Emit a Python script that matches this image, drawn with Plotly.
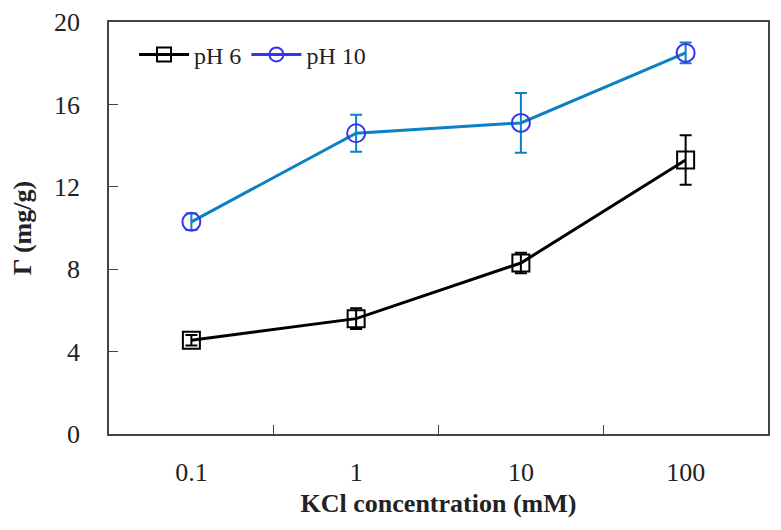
import plotly.graph_objects as go

categories = ["0.1", "1", "10", "100"]
ph6 = [4.55, 5.6, 8.3, 13.3]
ph6_err = [0.25, 0.5, 0.5, 1.2]
ph10 = [10.3, 14.6, 15.1, 18.5]
ph10_err = [0.4, 0.9, 1.45, 0.5]
y_ticks = [0, 4, 8, 12, 16, 20]

font_family = "Liberation Serif, DejaVu Serif, serif"
blue_line = "#0c80c4"
blue_marker = "#3535f0"

fig = go.Figure()
fig.add_trace(go.Scatter(
    x=categories, y=ph6, mode="lines+markers", showlegend=False,
    line=dict(color="black", width=3),
    marker=dict(symbol="square-open", size=17, color="black", line=dict(width=2)),
    error_y=dict(type="data", array=ph6_err, color="black", thickness=2, width=6),
))
fig.add_trace(go.Scatter(
    x=categories, y=ph10, mode="lines+markers", showlegend=False,
    line=dict(color=blue_line, width=3),
    marker=dict(symbol="circle-open", size=18, color=blue_marker, line=dict(width=2)),
    error_y=dict(type="data", array=ph10_err, color=blue_line, thickness=2, width=6),
))
# legend entries
fig.add_trace(go.Scatter(
    x=[None], y=[None], mode="lines+markers", name="pH 6",
    line=dict(color="black", width=3),
    marker=dict(symbol="square-open", size=14, color="black", line=dict(width=2)),
))
fig.add_trace(go.Scatter(
    x=[None], y=[None], mode="lines+markers", name="pH 10",
    line=dict(color=blue_marker, width=3),
    marker=dict(symbol="circle-open", size=14, color=blue_marker, line=dict(width=2)),
))

# page body adds an 8px offset; figure sized/margined to compensate
fig.update_layout(
    width=773, height=522,
    margin=dict(l=101, r=13, t=14, b=96),
    paper_bgcolor="white", plot_bgcolor="white",
    font=dict(family=font_family, size=25, color="#222"),
    showlegend=True,
    legend=dict(orientation="h", x=0.038, y=0.975, xanchor="left", yanchor="top",
                bgcolor="rgba(0,0,0,0)", font=dict(size=24), itemwidth=50,
                tracegroupgap=0),
    xaxis=dict(
        type="category", categoryorder="array", categoryarray=categories,
        range=[-0.5, 3.5], tickson="boundaries", ticks="inside", ticklen=9,
        tickwidth=1.2, tickcolor="#444", automargin=False,
        showline=True, linecolor="#444", linewidth=1.5, mirror=True,
        showgrid=False, zeroline=False, ticklabelstandoff=14,
        title=dict(text="<b>KCl concentration (mM)</b>", standoff=8,
                   font=dict(size=26, color="#222")),
        tickfont=dict(size=26),
    ),
    yaxis=dict(
        range=[0, 20], tickvals=y_ticks, ticks="inside", ticklen=9,
        tickwidth=1.2, tickcolor="#444", automargin=False,
        showline=True, linecolor="#444", linewidth=1.5, mirror=True,
        showgrid=False, zeroline=False, ticklabelstandoff=22,
        title=dict(text="<b>Γ (mg/g)</b>", standoff=16,
                   font=dict(size=26, color="#222")),
        tickfont=dict(size=26),
    ),
)

fig.write_html("out.html")
